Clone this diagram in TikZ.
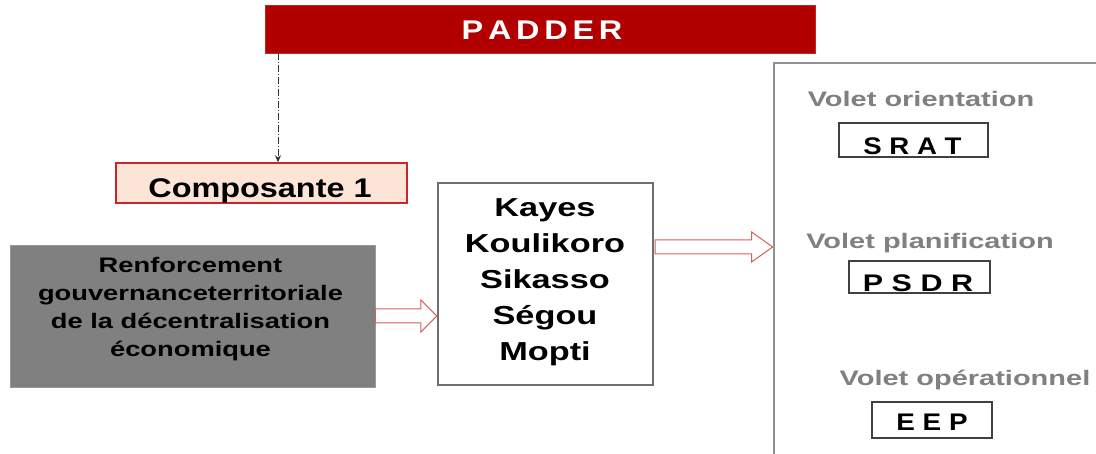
\documentclass[tikz,border=0pt]{standalone}
\usepackage{fontspec}
\setmainfont{Liberation Sans}
\usetikzlibrary{arrows.meta,calc}
\definecolor{padred}{RGB}{178,0,0}
\definecolor{compfill}{RGB}{252,229,214}
\definecolor{compred}{RGB}{205,35,45}
\definecolor{boxgray}{RGB}{128,128,128}
\definecolor{arrowred}{RGB}{215,95,95}
\definecolor{kaygray}{RGB}{110,110,110}
\definecolor{volgray}{RGB}{145,145,145}
\definecolor{voltext}{RGB}{128,128,128}
\newcommand{\wx}[2][1.3]{\scalebox{#1}[1]{#2}}
\newcommand{\lsp}{\hspace{4pt}}
\begin{document}
\begin{tikzpicture}[x=1pt,y=-1pt,
  padbox/.style={fill=padred,draw=padred!85!white,line width=0.8pt,minimum width=550pt,minimum height=48pt,inner sep=0pt},
  compbox/.style={fill=compfill,draw=compred,line width=1.4pt,minimum width=291pt,minimum height=40pt,inner sep=0pt},
  graybox/.style={fill=boxgray,draw=boxgray!80!white,line width=0.6pt,minimum width=365pt,minimum height=142pt,inner sep=0pt},
  kaybox/.style={fill=white,draw=kaygray,line width=2.4pt,minimum width=215pt,minimum height=202pt,inner sep=0pt},
  volbox/.style={fill=white,draw=volgray,line width=2.8pt,minimum width=356pt,minimum height=427pt,inner sep=0pt},
  codebox/.style={fill=white,draw=black!75,line width=1.3pt,inner sep=0pt},
  txt/.style={anchor=base,inner sep=0pt},
  hollow/.style={draw=arrowred,fill=white,line width=1pt,line join=miter},
  ]
\useasboundingbox (0,0) rectangle (1096,454);
\clip (0,0) rectangle (1096,454);

% boxes
\node[padbox] (pad) at (540,29) {};
\node[compbox] (comp) at (261.5,183) {};
\node[graybox] (gb) at (192.5,316) {};
\node[kaybox] (kay) at (545.5,284) {};
\node[volbox] (vol) at (952,276.5) {};
\node[codebox,minimum width=149pt,minimum height=34pt] (srat) at (913.5,140) {};
\node[codebox,minimum width=141pt,minimum height=32pt] (psdr) at (919.5,277) {};
\node[codebox,minimum width=120pt,minimum height=36pt] (eep) at (932,420) {};

% texts
\node[txt,text=white,font=\fontsize{27}{30}\selectfont\bfseries] (padt) at (542,40) {\wx[1.2]{P\lsp A\lsp D\lsp D\lsp E\lsp R}};
\node[txt,font=\fontsize{27}{30}\selectfont\bfseries] (compt) at (260,198) {\wx[1.2]{Composante 1}};
\node[txt,font=\fontsize{21}{28}\selectfont\bfseries] (gbt) at (190.5,273) {\wx[1.3]{\begin{tabular}[t]{@{}c@{}}Renforcement\\gouvernanceterritoriale\\de la décentralisation\\économique\end{tabular}}};
\node[txt,font=\fontsize{26}{36}\selectfont\bfseries] (kayt) at (545,217) {\wx[1.32]{\begin{tabular}[t]{@{}c@{}}Kayes\\Koulikoro\\Sikasso\\Ségou\\Mopti\end{tabular}}};
\node[txt,text=voltext,font=\fontsize{21}{24}\selectfont\bfseries] (v1) at (921,107) {\wx[1.38]{Volet orientation}};
\node[txt,text=voltext,font=\fontsize{21}{24}\selectfont\bfseries] (v2) at (930,249) {\wx[1.38]{Volet planification}};
\node[txt,text=voltext,font=\fontsize{21}{24}\selectfont\bfseries] (v3) at (965,386) {\wx[1.38]{Volet opérationnel}};
\node[txt,font=\fontsize{24}{26}\selectfont\bfseries] (sratt) at (912.5,155) {\wx[1.15]{S R A T}};
\node[txt,font=\fontsize{24}{26}\selectfont\bfseries] (psdrt) at (918,292) {\wx[1.27]{P S D R}};
\node[txt,font=\fontsize{24}{26}\selectfont\bfseries] (eept) at (932,431) {\wx[1.16]{E E P}};

% dashed connector
\coordinate (dx) at (278,0);
\draw[dash pattern=on 7pt off 2pt on 1pt off 2pt,line width=0.9pt,draw=black!80,-{Stealth[length=7pt,width=6pt]}] (pad.south -| dx) -- (comp.north -| dx);

% hollow arrow 1
\draw[hollow] ($(gb.east)+(0,-7)$) -- ($(kay.west |- gb.east)+(-16,-7)$) -- ++(0,-9)
  -- (kay.west |- gb.east) -- ++(-16,16) -- ++(0,-9) -- ($(gb.east)+(0,7)$) -- cycle;

% hollow arrow 2
\coordinate (a2s) at (kay.east |- 0,247);
\coordinate (a2t) at (vol.west |- 0,247);
\draw[hollow] ($(a2s)+(1,-7)$) -- ($(a2t)+(-21,-7)$) -- ++(0,-8)
  -- (a2t) -- ++(-21,15) -- ++(0,-8) -- ($(a2s)+(1,7)$) -- cycle;
\end{tikzpicture}
\end{document}
